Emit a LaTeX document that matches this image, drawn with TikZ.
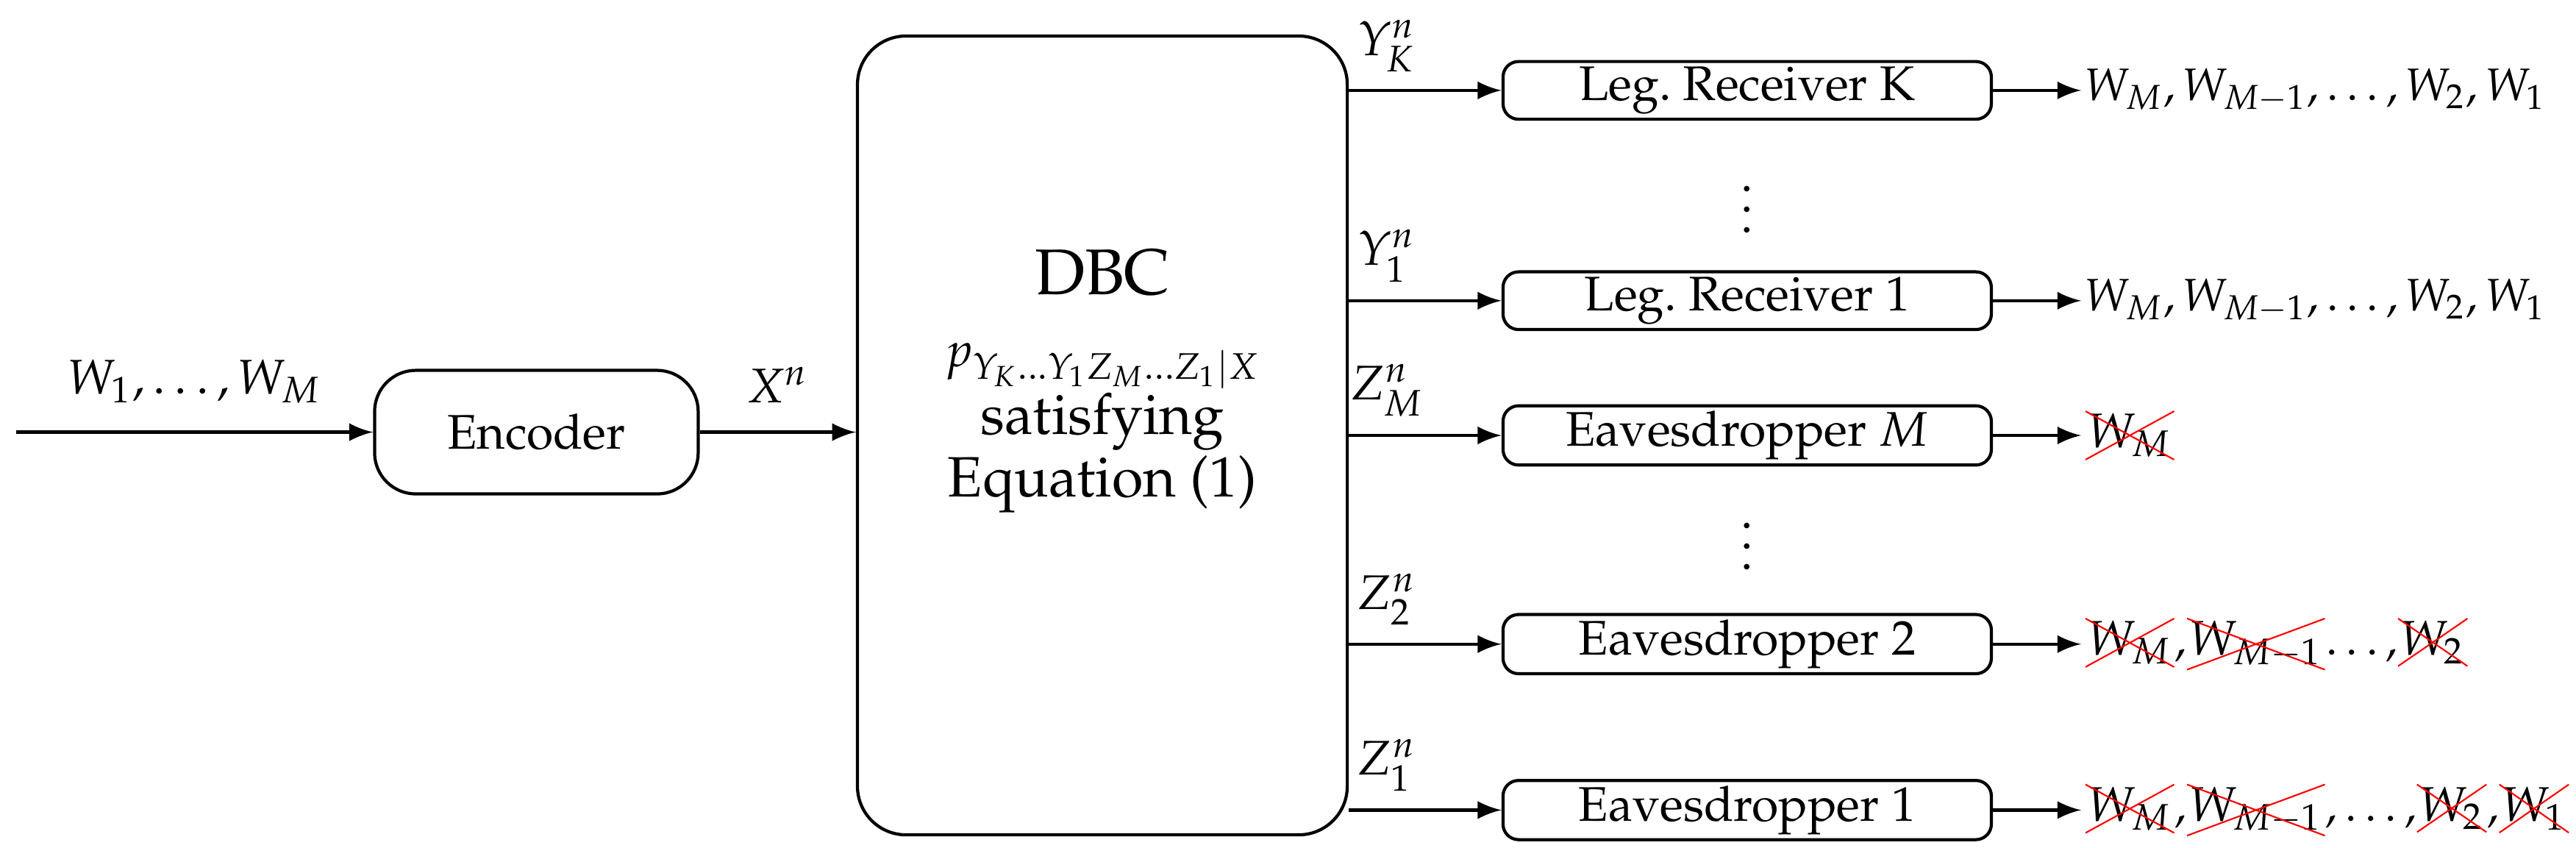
\documentclass[tikz,border=0pt]{standalone}
\usepackage[T1]{fontenc}
\usepackage{mathpazo}
\usepackage{tikz}
\usetikzlibrary{shapes.misc}
\newcommand{\crossw}[1]{\tikz[baseline=(c.base)]\node[cross out,draw=red,line width=0.3pt,inner sep=0.3pt] (c) {$#1$};}
\tikzset{
  blk/.style={draw,line width=0.6pt,rounded corners=3pt,minimum width=3.32cm,minimum height=0.37cm,inner sep=1pt},
  link/.style={-latex,line width=0.6pt},
  lbl/.style={anchor=west,inner sep=0.5pt,font=\fontsize{8.8}{10}\selectfont}
}
\begin{document}
\begin{tikzpicture}[x=0.01117cm,y=-0.01117cm,every node/.append style={font=\fontsize{9.4}{11}\selectfont}]
\useasboundingbox (0,0) rectangle (1568,516);
% source side
\coordinate (src) at (10,263);
\node[draw,line width=0.6pt,rounded corners=0.28cm,minimum width=2.2cm,minimum height=0.84cm] (enc) at (326.5,263) {Encoder};
\node[draw,line width=0.6pt,rounded corners=0.33cm,minimum width=3.33cm,minimum height=5.43cm] (dbc) at (671,265) {};
\node[align=center,inner sep=0pt] (dbctxt) at (671,232) {\fontsize{12.5}{14}\selectfont DBC\\[3pt] $p_{Y_K\ldots Y_1 Z_M\ldots Z_1|X}$\\ \fontsize{11}{12}\selectfont satisfying\\ \fontsize{11}{12}\selectfont Equation (1)};
\draw[link] (src) -- node[above=2pt] {$W_1,\ldots,W_M$} (enc);
\draw[link] (enc) -- node[above=2pt] {$X^n$} (enc -| dbc.west);
% receivers
\node[blk] (rk) at (1063.5,55) {Leg.\ Receiver K};
\node[blk] (r1) at (1063.5,183) {Leg.\ Receiver 1};
\node[blk] (em) at (1063.5,265) {Eavesdropper $M$};
\node[blk] (e2) at (1063.5,392) {Eavesdropper 2};
\node[blk] (e1) at (1063.5,493) {Eavesdropper 1};
\node (d1) at (1063.5,118) {$\vdots$};
\node (d2) at (1063.5,323) {$\vdots$};
\foreach \r/\t in {rk/Y_K^n, r1/Y_1^n, em/Z_M^n, e2/Z_2^n, e1/Z_1^n}
  \draw[link] (\r -| dbc.east) -- node[pos=0.25,above=0pt] {$\t$} (\r);
% outputs
\foreach \r in {rk,r1,em,e2,e1}
  \coordinate (o\r) at ([xshift=0.6cm]\r.east);
\foreach \r in {rk,r1,em,e2,e1}
  \draw[link] (\r.east) -- (o\r);
\node[lbl] (outk) at (ork) {$W_M,W_{M-1},\ldots,W_2,W_1$};
\node[lbl] (out1) at (or1) {$W_M,W_{M-1},\ldots,W_2,W_1$};
\node[lbl] (outm) at (oem) {\crossw{W_M}};
\node[lbl] (out2) at (oe2) {\crossw{W_M},\crossw{W_{M-1}}$\ldots,$\crossw{W_2}};
\node[lbl] (out0) at (oe1) {\crossw{W_M},\crossw{W_{M-1}}$,\ldots,$\crossw{W_2},\crossw{W_1}};
\end{tikzpicture}
\end{document}
